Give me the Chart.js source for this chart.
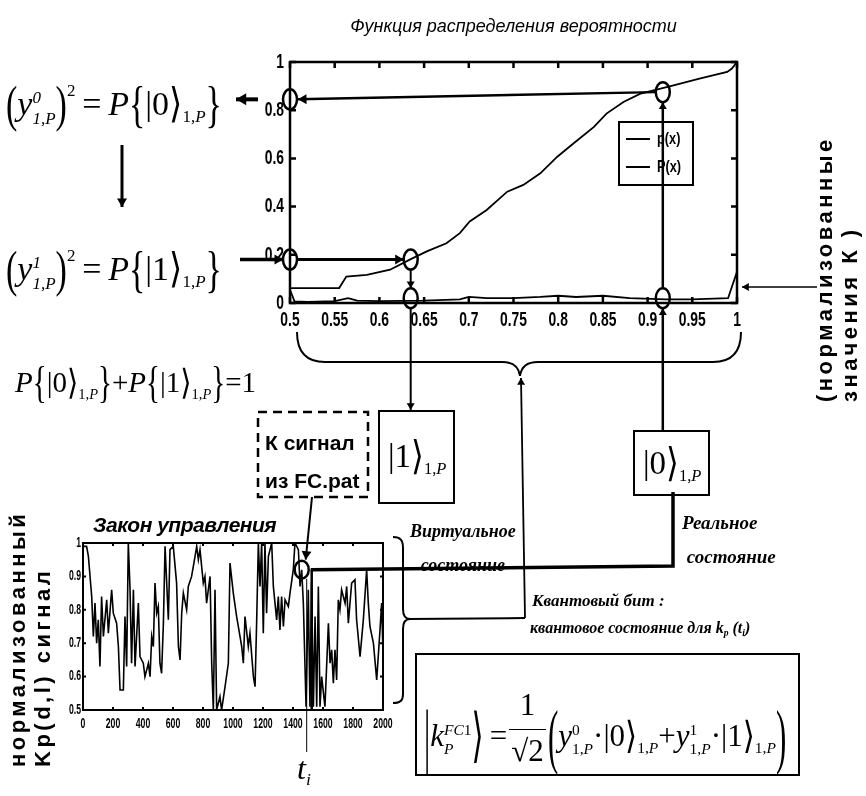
<!DOCTYPE html>
<html>
<head>
<meta charset="utf-8">
<script src="https://cdn.jsdelivr.net/npm/chart.js@4.4.1/dist/chart.umd.min.js"></script>
<style>
    html, body { margin: 0; padding: 0; background: #fff; }
    #page { position: relative; width: 866px; height: 796px; overflow: hidden; color: #000; font-family: 'Liberation Sans', Arial, sans-serif; }
    .wrap { position: absolute; }
    #overlay { position: absolute; left: 0; top: 0; width: 866px; height: 796px; z-index: 5; pointer-events: none; }
    .t { position: absolute; white-space: nowrap; z-index: 6; line-height: 1; }
    .f { font-family: 'Liberation Serif', 'DejaVu Serif', serif; }
    .d { display: inline-block; transform: scaleY(1.5); }
    .dd { display: inline-block; transform: scaleY(2.3); }
    .ss { display: inline-block; font-size: 0.5em; line-height: 1.25; vertical-align: -0.55em; text-align: left; }
    .sb { font-size: 0.5em; vertical-align: -0.45em; }
    .sp { font-size: 0.5em; vertical-align: 1.1em; }
    .ang { display: inline-block; transform: scaleY(1.2); }
    .frac { display: inline-block; vertical-align: -0.5em; text-align: center; line-height: 1.08; margin: 0 2px; }
    .frac span { display: block; }
    .frac .num { padding-bottom: 8px; }
    .frac .den { border-top: 1.5px solid #000; padding: 4px 2px 0 2px; }
    .box { position: absolute; border: 2px solid #000; background: #fff; z-index: 4; }
    .rot { position: absolute; transform-origin: 0 0; white-space: nowrap; font-weight: bold; font-size: 22px; line-height: 25px; letter-spacing: 3.5px; z-index: 6; }
    .it { font-family: 'Liberation Serif', serif; font-style: italic; font-weight: bold; }
</style>
</head>
<body>
<div id="page">
    <div class="wrap" id="topWrap" style="left:240px;top:0px;width:530px;height:330px"><canvas id="cdf"></canvas></div>
    <div class="wrap" id="botWrap" style="left:40px;top:536px;width:362px;height:200px"><canvas id="signal"></canvas></div>

    <!-- state boxes -->
    <div class="box" style="left:378px;top:410px;width:73px;height:90px"></div>
    <div class="box" style="left:633px;top:430px;width:73px;height:62px"></div>
    <div class="box" style="left:415px;top:653px;width:381px;height:119px;background:transparent"></div>

    <svg id="overlay" width="866" height="796"></svg>

    <!-- left formulas -->
    <div class="t f" style="left:6px;top:82px;font-size:34px">
        <span class="d">(</span><i>y</i><span class="ss"><i>0</i><br><i>1,P</i></span><span class="d">)</span><span class="sp">2</span>&thinsp;=&thinsp;<i>P</i><span class="d">{</span>|0<span class="ang">&#x27E9;</span><span class="sb">1,<i>P</i></span><span class="d">}</span>
    </div>
    <div class="t f" style="left:6px;top:247px;font-size:34px">
        <span class="d">(</span><i>y</i><span class="ss"><i>1</i><br><i>1,P</i></span><span class="d">)</span><span class="sp">2</span>&thinsp;=&thinsp;<i>P</i><span class="d">{</span>|1<span class="ang">&#x27E9;</span><span class="sb">1,<i>P</i></span><span class="d">}</span>
    </div>
    <div class="t f" style="left:15px;top:368px;font-size:29px">
        <i>P</i><span class="d">{</span>|0<span class="ang">&#x27E9;</span><span class="sb">1,<i>P</i></span><span class="d">}</span>+<i>P</i><span class="d">{</span>|1<span class="ang">&#x27E9;</span><span class="sb">1,<i>P</i></span><span class="d">}</span>=1
    </div>

    <!-- box contents -->
    <div class="t f" style="left:388px;top:440px;font-size:33px">|1<span class="ang">&#x27E9;</span><span class="sb">1,<i>P</i></span></div>
    <div class="t f" style="left:643px;top:447px;font-size:33px">|0<span class="ang">&#x27E9;</span><span class="sb">1,<i>P</i></span></div>

    <!-- dashed box text -->
    <div class="t" style="left:265px;top:424px;font-size:21px;font-weight:bold;line-height:38px">К сигнал<br>из FC.pat</div>

    <div class="t" style="left:93px;top:514px;font-size:21px;font-weight:bold;font-style:italic;letter-spacing:-0.5px">Закон управления</div>

    <div class="t it" style="left:410px;top:514px;font-size:18px;line-height:34px;text-align:center">Виртуальное<br>состояние</div>
    <div class="t it" style="left:682px;top:506px;font-size:19px;line-height:34px">Реальное<br>&nbsp;состояние</div>
    <div class="t it" style="left:532px;top:592px;font-size:17px">Квантовый бит :</div>
    <div class="t it" style="left:530px;top:620px;font-size:16px">квантовое состояние для <i>k</i><span style="font-size:0.6em;vertical-align:-0.3em">p</span> (<i>t</i><span style="font-size:0.6em;vertical-align:-0.3em">i</span>)</div>

    <div class="t it" style="left:297px;top:752px;font-size:32px;font-weight:normal"><i>t</i><span style="font-size:0.55em;vertical-align:-0.35em">i</span></div>

    <!-- bottom formula -->
    <div class="t f" style="left:424px;top:688px;font-size:31px">
        <span class="dd">|</span><i>k</i><span class="ss"><i>FC</i>1<br><i>P</i></span><span class="ang" style="transform:scaleY(1.9)">&#x27E9;</span>&thinsp;=<span class="frac"><span class="num">1</span><span class="den">&radic;2</span></span><span class="dd">(</span><i>y</i><span class="ss">0<br>1,<i>P</i></span>&middot;|0<span class="ang">&#x27E9;</span><span class="sb">1,<i>P</i></span>+<i>y</i><span class="ss">1<br>1,<i>P</i></span>&middot;|1<span class="ang">&#x27E9;</span><span class="sb">1,<i>P</i></span><span class="dd">)</span>
    </div>

    <!-- rotated axis captions -->
    <div class="rot" style="transform:translate(812px,402px) rotate(-90deg)">(нормализованные<br>значения К )</div>
    <div class="rot" style="transform:translate(5px,767px) rotate(-90deg)">нормализованный<br>Kp(d,l) сигнал</div>
</div>

<script>
// Probability distribution chart (top)
const topTitle = 'Функция распределения вероятности';
const topXTicks = [0.5, 0.55, 0.6, 0.65, 0.7, 0.75, 0.8, 0.85, 0.9, 0.95, 1];
const topYTicks = [0, 0.2, 0.4, 0.6, 0.8, 1];

const cdfX = [0.5, 0.555, 0.563, 0.586, 0.612, 0.634, 0.653, 0.675, 0.69, 0.701, 0.72, 0.743, 0.761, 0.78, 0.799, 0.817, 0.84, 0.854, 0.873, 0.892, 0.91, 0.929, 0.958, 0.989, 0.994, 1.0];
const cdfY = [0.062, 0.062, 0.11, 0.117, 0.138, 0.18, 0.214, 0.248, 0.29, 0.338, 0.386, 0.462, 0.49, 0.538, 0.607, 0.662, 0.731, 0.786, 0.834, 0.869, 0.885, 0.903, 0.931, 0.959, 0.972, 1.0];

const pdfX = [0.5, 0.505, 0.52, 0.55, 0.565, 0.575, 0.6, 0.65, 0.69, 0.7, 0.72, 0.75, 0.78, 0.8, 0.82, 0.85, 0.88, 0.92, 0.95, 0.99, 1.0];
const pdfY = [0.055, 0.007, 0.005, 0.008, 0.02, 0.01, 0.008, 0.01, 0.015, 0.025, 0.02, 0.02, 0.025, 0.03, 0.025, 0.03, 0.02, 0.015, 0.015, 0.02, 0.13];

// Control law signal (bottom)
const sigXTicks = [0, 200, 400, 600, 800, 1000, 1200, 1400, 1600, 1800, 2000];
const sigYTicks = [0.5, 0.6, 0.7, 0.8, 0.9, 1];
const sigT = [0, 24, 36, 58, 69, 80, 91, 102, 113, 124, 136, 158, 169, 191, 202, 224, 236, 247, 269, 280, 291, 302, 313, 324, 336, 347, 369, 380, 402, 413, 436, 447, 458, 469, 480, 491, 502, 513, 524, 536, 547, 569, 580, 602, 624, 636, 647, 658, 669, 691, 702, 724, 747, 758, 769, 780, 802, 813, 824, 847, 858, 869, 880, 891, 913, 924, 947, 969, 980, 1002, 1024, 1047, 1058, 1069, 1080, 1102, 1113, 1136, 1147, 1158, 1169, 1180, 1191, 1202, 1213, 1224, 1236, 1258, 1269, 1291, 1302, 1313, 1324, 1336, 1347, 1369, 1380, 1402, 1413, 1436, 1447, 1458, 1469, 1487, 1502, 1513, 1524, 1536, 1547, 1558, 1569, 1580, 1591, 1613, 1636, 1647, 1658, 1669, 1680, 1691, 1702, 1713, 1724, 1747, 1758, 1769, 1791, 1813, 1824, 1847, 1869, 1891, 1902, 1913, 1936, 1958, 1980, 1991, 2000];
const sigV = [0.99, 0.99, 0.96, 0.84, 0.72, 0.82, 0.70, 0.77, 0.63, 0.84, 0.72, 0.83, 0.73, 0.86, 0.79, 0.76, 0.69, 0.56, 0.56, 0.78, 0.63, 1.0, 0.87, 0.64, 0.86, 0.63, 0.82, 0.66, 0.64, 0.60, 0.64, 0.60, 0.72, 0.69, 0.88, 0.79, 0.81, 0.64, 0.61, 0.76, 0.99, 0.77, 0.98, 0.99, 0.88, 0.69, 0.65, 0.79, 0.85, 0.80, 0.87, 0.90, 0.96, 0.99, 0.95, 0.98, 0.88, 0.90, 0.82, 0.90, 0.64, 0.50, 0.86, 0.50, 0.54, 0.50, 0.57, 0.64, 0.94, 0.85, 0.78, 0.72, 0.69, 0.64, 0.78, 0.69, 0.73, 0.60, 0.57, 0.77, 1.0, 0.87, 1.0, 0.73, 1.0, 0.79, 0.96, 1.0, 0.87, 0.77, 0.84, 0.74, 0.84, 0.75, 0.83, 0.81, 0.85, 0.92, 1.0, 0.98, 0.87, 0.92, 0.82, 0.51, 0.86, 0.51, 0.88, 0.51, 0.78, 0.51, 0.87, 0.51, 0.60, 0.51, 0.76, 0.64, 0.68, 0.58, 0.68, 0.59, 0.83, 0.80, 0.86, 0.82, 0.87, 0.76, 0.88, 0.89, 0.77, 0.66, 0.77, 0.92, 0.82, 0.75, 0.70, 0.59, 0.74, 0.82, 0.67];

// Marked states
const virtualX = 0.635;
const realX = 0.917;
const levelP0 = 0.845;
const levelP1 = 0.18;
const baseLevel = 0.02;
const realOnCurve = 0.875;
const tI = 1458;
const kAtTi = 0.92;

const TOP_L = 240, TOP_T = 0, BOT_L = 40, BOT_T = 536;

function fmtTick(v) {
    return String(Number(v.toFixed(2)));
}

const framePlugin = {
    id: 'frame',
    afterDatasetsDraw(chart, args, opts) {
        const { ctx, chartArea: a, scales } = chart;
        ctx.save();
        ctx.strokeStyle = '#000';
        ctx.lineWidth = opts.width;
        ctx.strokeRect(a.left, a.top, a.width, a.height);
        const t = opts.tick;
        ctx.beginPath();
        scales.x.ticks.forEach(tk => {
            const x = scales.x.getPixelForValue(tk.value);
            ctx.moveTo(x, a.bottom); ctx.lineTo(x, a.bottom - t);
            ctx.moveTo(x, a.top); ctx.lineTo(x, a.top + t);
        });
        scales.y.ticks.forEach(tk => {
            const y = scales.y.getPixelForValue(tk.value);
            ctx.moveTo(a.left, y); ctx.lineTo(a.left + t, y);
            ctx.moveTo(a.right, y); ctx.lineTo(a.right - t, y);
        });
        ctx.stroke();

        // condensed tick labels like the scanned MATLAB axes
        ctx.fillStyle = '#000';
        ctx.font = opts.font;
        ctx.textBaseline = 'middle';
        scales.x.ticks.forEach(tk => {
            const x = scales.x.getPixelForValue(tk.value);
            ctx.save();
            ctx.translate(x, a.bottom + opts.xGap);
            ctx.scale(opts.sx, 1);
            ctx.textAlign = 'center';
            ctx.fillText(fmtTick(tk.value), 0, 0);
            ctx.restore();
        });
        scales.y.ticks.forEach(tk => {
            const y = scales.y.getPixelForValue(tk.value);
            ctx.save();
            ctx.translate(a.left - opts.yGap, y);
            ctx.scale(opts.sx, 1);
            ctx.textAlign = 'right';
            ctx.fillText(fmtTick(tk.value), 0, 0);
            ctx.restore();
        });
        ctx.restore();
    }
};

const legendBoxPlugin = {
    id: 'legendBox',
    afterDraw(chart) {
        const { ctx, chartArea: a } = chart;
        const left = a.right - 118, top = a.top + 60, w = 74, h = 63;
        ctx.save();
        ctx.fillStyle = '#fff';
        ctx.fillRect(left, top, w, h);
        ctx.strokeStyle = '#000';
        ctx.lineWidth = 2;
        ctx.strokeRect(left, top, w, h);
        ctx.font = 'bold 17px "Liberation Sans", Arial, sans-serif';
        ctx.textBaseline = 'middle';
        ctx.fillStyle = '#000';
        chart.data.datasets.forEach((ds, i) => {
            const y = top + 17 + i * 28;
            ctx.lineWidth = 2;
            ctx.beginPath();
            ctx.moveTo(left + 7, y); ctx.lineTo(left + 31, y);
            ctx.stroke();
            ctx.save();
            ctx.translate(left + 38, y);
            ctx.scale(0.75, 1);
            ctx.fillText(ds.label, 0, 0);
            ctx.restore();
        });
        ctx.restore();
    }
};

const topChart = new Chart(document.getElementById('cdf'), {
    type: 'line',
    data: {
        datasets: [{
            label: 'p(x)',
            data: pdfX.map((x, i) => ({ x: x, y: pdfY[i] })),
            borderColor: '#000',
            borderWidth: 1.8,
            pointRadius: 0,
            tension: 0
        }, {
            label: 'P(x)',
            data: cdfX.map((x, i) => ({ x: x, y: cdfY[i] })),
            borderColor: '#000',
            borderWidth: 1.8,
            pointRadius: 0,
            tension: 0
        }]
    },
    options: {
        responsive: true,
        maintainAspectRatio: false,
        animation: false,
        devicePixelRatio: 1,
        layout: { padding: { left: 0, right: 33, top: 0, bottom: 0 } },
        plugins: {
            legend: { display: false },
            tooltip: { enabled: false },
            title: {
                display: true,
                fullSize: false,
                text: topTitle,
                color: '#000',
                font: { family: "'Liberation Sans', Arial, sans-serif", size: 18, style: 'italic', weight: 'normal' },
                padding: { top: 16, bottom: 24.4 }
            },
            frame: { width: 2.5, tick: 6, font: 'bold 21px "Liberation Sans", Arial, sans-serif', sx: 0.66, xGap: 17, yGap: 6 }
        },
        scales: {
            x: {
                type: 'linear',
                min: 0.5,
                max: 1,
                afterBuildTicks: s => { s.ticks = topXTicks.map(v => ({ value: v })); },
                afterFit: s => { s.height = 27; },
                ticks: { display: false },
                grid: { display: false },
                border: { display: false }
            },
            y: {
                min: 0,
                max: 1,
                afterBuildTicks: s => { s.ticks = topYTicks.map(v => ({ value: v })); },
                afterFit: s => { s.width = 50; },
                ticks: { display: false },
                grid: { display: false },
                border: { display: false }
            }
        }
    },
    plugins: [framePlugin, legendBoxPlugin]
});

const botChart = new Chart(document.getElementById('signal'), {
    type: 'line',
    data: {
        datasets: [{
            label: 'Kp',
            data: sigT.map((t, i) => ({ x: t, y: sigV[i] })),
            borderColor: '#000',
            borderWidth: 1.6,
            pointRadius: 0,
            tension: 0
        }]
    },
    options: {
        responsive: true,
        maintainAspectRatio: false,
        animation: false,
        devicePixelRatio: 1,
        layout: { padding: { left: 0, right: 19, top: 7, bottom: 0 } },
        plugins: {
            legend: { display: false },
            tooltip: { enabled: false },
            frame: { width: 2, tick: 3, font: 'bold 14px "Liberation Sans", Arial, sans-serif', sx: 0.62, xGap: 14, yGap: 2 }
        },
        scales: {
            x: {
                type: 'linear',
                min: 0,
                max: 2000,
                afterBuildTicks: s => { s.ticks = sigXTicks.map(v => ({ value: v })); },
                afterFit: s => { s.height = 26; },
                ticks: { display: false },
                grid: { display: false },
                border: { display: false }
            },
            y: {
                min: 0.5,
                max: 1,
                afterBuildTicks: s => { s.ticks = sigYTicks.map(v => ({ value: v })); },
                afterFit: s => { s.width = 43; },
                ticks: { display: false },
                grid: { display: false },
                border: { display: false }
            }
        }
    },
    plugins: [framePlugin]
});

// Arrows, markers and braces connecting the two plots
function seg(x1, y1, x2, y2, w, extra) {
    return `<line x1="${x1}" y1="${y1}" x2="${x2}" y2="${y2}" stroke="#000" stroke-width="${w}" ${extra || ''}/>`;
}
function head(x, y, dx, dy, size) {
    const len = Math.hypot(dx, dy), ux = dx / len, uy = dy / len;
    const bx = x - ux * size * 1.7, by = y - uy * size * 1.7;
    return `<polygon points="${x},${y} ${bx - uy * size},${by + ux * size} ${bx + uy * size},${by - ux * size}" fill="#000"/>`;
}
function arrow(x1, y1, x2, y2, w, size) {
    return seg(x1, y1, x2, y2, w) + head(x2, y2, x2 - x1, y2 - y1, size);
}
function ring(x, y, rx, ry) {
    return `<ellipse cx="${x}" cy="${y}" rx="${rx}" ry="${ry}" fill="none" stroke="#000" stroke-width="2.5"/>`;
}

function buildOverlay() {
    const tx = v => TOP_L + topChart.scales.x.getPixelForValue(v);
    const ty = v => TOP_T + topChart.scales.y.getPixelForValue(v);
    const bx = v => BOT_L + botChart.scales.x.getPixelForValue(v);
    const by = v => BOT_T + botChart.scales.y.getPixelForValue(v);
    const RX = 7, RY = 10;
    let s = '';

    // |0> level: curve -> axis -> formula
    s += ring(tx(realX), ty(realOnCurve), RX, RY);
    s += ring(tx(0.5), ty(levelP0), RX, RY);
    s += arrow(tx(realX) - RX, ty(realOnCurve), tx(0.5) + RX + 1, ty(levelP0), 2.5, 5);
    s += arrow(tx(0.5) - 32, ty(levelP0), tx(0.5) - 54, ty(levelP0), 4, 6);

    // |1> level: formula -> axis -> curve
    s += ring(tx(0.5), ty(levelP1), RX, RY);
    s += ring(tx(virtualX), ty(levelP1), RX, RY);
    s += arrow(tx(0.5) - 50, ty(levelP1), tx(0.5) - RX, ty(levelP1), 3.5, 5);
    s += arrow(tx(0.5) + RX, ty(levelP1), tx(virtualX) - RX, ty(levelP1), 3, 5);

    // virtual state column
    s += ring(tx(virtualX), ty(baseLevel), RX, RY);
    s += arrow(tx(virtualX), ty(levelP1) + RY, tx(virtualX), ty(baseLevel) - RY, 2, 4);
    s += arrow(tx(virtualX), ty(baseLevel) + RY, tx(virtualX), 410, 2, 4);

    // real state column
    s += ring(tx(realX), ty(baseLevel), RX, RY);
    s += arrow(tx(realX), 430, tx(realX), ty(baseLevel) + RY, 2.5, 4);
    s += arrow(tx(realX), ty(baseLevel) - RY, tx(realX), ty(realOnCurve) + RY, 2.5, 4);

    // formula column down arrow
    s += arrow(122, 145, 122, 207, 3, 5);

    // right axis caption arrow
    s += arrow(817, 287, tx(1) + 5, 287, 1.6, 4);

    // brace under the x axis
    const bL = tx(0.5) + 7, bR = tx(1) + 4, bM = 520;
    s += `<path d="M${bL},332 C${bL},352 ${bL + 10},362 ${bL + 28},362 L${bM - 18},362 C${bM - 6},362 ${bM - 1},368 ${bM},376 C${bM + 1},368 ${bM + 6},362 ${bM + 18},362 L${bR - 28},362 C${bR - 10},362 ${bR},352 ${bR},332" fill="none" stroke="#000" stroke-width="2"/>`;
    s += arrow(525, 618, 521, 378, 1.8, 4);
    s += seg(525, 618, 408, 619, 2);
    s += `<path d="M393,537 C401,537 403,541 403,548 L403,609 C403,615 405,619 410,619 C405,619 403,623 403,629 L403,694 C403,700 401,703 393,703" fill="none" stroke="#000" stroke-width="2"/>`;

    // real state -> time instant on the control signal
    s += `<path d="M673,492 L673,566 L${bx(tI) + 9},${by(kAtTi)}" fill="none" stroke="#000" stroke-width="3.5"/>`;
    s += seg(bx(tI) + 10, by(kAtTi), bx(tI) + 10, by(0.5), 2.5);
    s += `<ellipse cx="${bx(tI)}" cy="${by(kAtTi)}" rx="7" ry="9" fill="none" stroke="#000" stroke-width="2.5"/>`;
    s += seg(bx(tI) + 5, by(kAtTi) + 9, bx(tI) + 5, 752, 1);

    // dashed source box and its arrow
    s += `<rect x="258" y="412" width="110" height="85" fill="none" stroke="#000" stroke-width="2.5" stroke-dasharray="9 6"/>`;
    s += arrow(312, 497, bx(tI) + 4, by(kAtTi) - 10, 2, 5);

    document.getElementById('overlay').innerHTML = s;
}

buildOverlay();
</script>
</body>
</html>
